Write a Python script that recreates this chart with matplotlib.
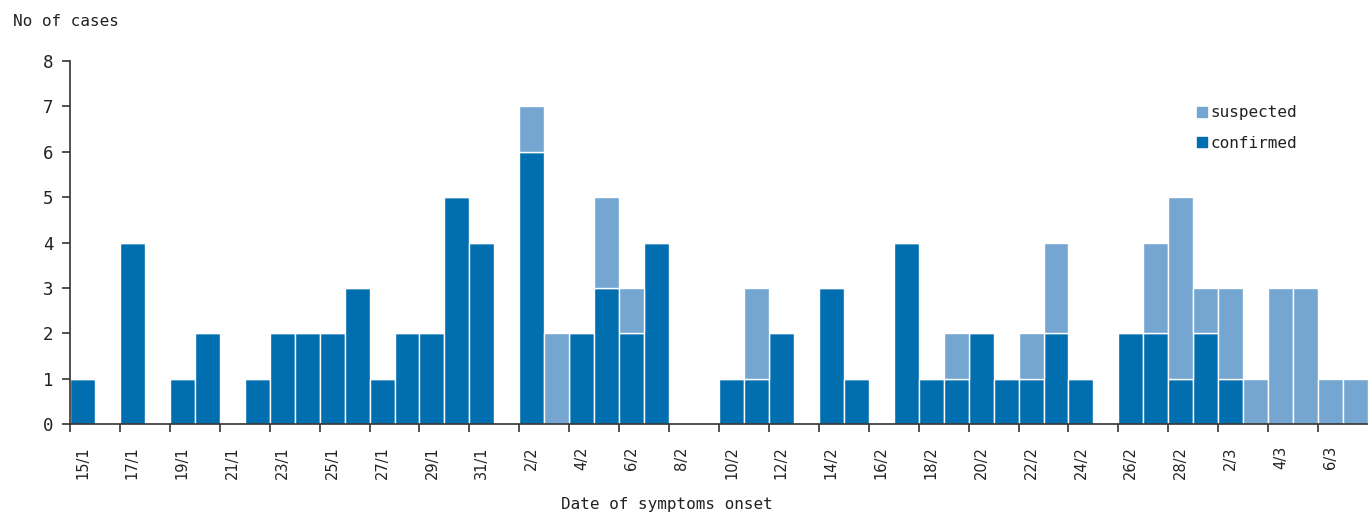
import matplotlib
matplotlib.use("Agg")
import matplotlib.pyplot as plt
from matplotlib.lines import Line2D
import numpy as np

dates = (["%d/1" % d for d in range(15, 32)] +
         ["%d/2" % d for d in range(1, 29)] +
         ["%d/3" % d for d in range(1, 8)])

confirmed = [1, 0, 4, 0, 1, 2, 0, 1, 2, 2, 2, 3, 1, 2, 2, 5, 4,
             0, 6, 0, 2, 3, 2, 4, 0, 0, 1, 1, 2, 0, 3, 1, 0, 4, 1, 1, 2, 1, 1, 2, 1, 0, 2, 2, 1,
             2, 1, 0, 0, 0, 0, 0]
suspected = [0, 0, 0, 0, 0, 0, 0, 0, 0, 0, 0, 0, 0, 0, 0, 0, 0,
             0, 1, 2, 0, 2, 1, 0, 0, 0, 0, 2, 0, 0, 0, 0, 0, 0, 0, 1, 0, 0, 1, 2, 0, 0, 0, 2, 4,
             1, 2, 1, 3, 3, 1, 1]

yticks = [0, 1, 2, 3, 4, 5, 6, 7, 8]

c_conf = "#006EAF"
c_susp = "#74A6D1"
font = "DejaVu Sans Mono"
txtc = "#222222"

fig = plt.figure(figsize=(13.68, 5.14), dpi=100)
ax = fig.add_axes([70 / 1368, 90 / 514, 1 - 70 / 1368, (424 - 61) / 514])

x = np.arange(len(dates))
ax.bar(x, confirmed, width=1.0, color=c_conf, edgecolor="white", linewidth=1.0)
ax.bar(x, suspected, width=1.0, bottom=confirmed, color=c_susp, edgecolor="white", linewidth=1.0)

ax.set_xlim(-0.5, len(dates) - 0.5)
ax.set_ylim(0, 8)

for s in ["top", "right"]:
    ax.spines[s].set_visible(False)
for s in ["left", "bottom"]:
    ax.spines[s].set_color("#333333")
    ax.spines[s].set_linewidth(1.2)

ax.set_yticks(yticks)
ax.set_yticklabels([str(v) for v in yticks], fontsize=12.5, color=txtc, family=font)
ax.tick_params(axis="y", length=6, width=1.2, color="#333333", pad=6)

ax.set_xticks(x[::2] - 0.5)
ax.set_xticklabels([])
ax.tick_params(axis="x", which="major", length=6, width=1.2, color="#333333")
ax.set_xticks(x[::2], minor=True)
ax.set_xticklabels(dates[::2], minor=True, rotation=90, fontsize=10.5,
                   color=txtc, family="DejaVu Sans", va="top", ha="center")
ax.tick_params(axis="x", which="minor", length=0, pad=16)

fig.text(13 / 1368, 1 - 22 / 514, "No of cases", fontsize=11.5, color=txtc,
         family=font, va="center", ha="left")
fig.text(667 / 1368, 1 - 505 / 514, "Date of symptoms onset", fontsize=11.5,
         color=txtc, family=font, va="center", ha="center")

handles = [Line2D([], [], marker="s", linestyle="none", color=c_susp, markersize=7),
           Line2D([], [], marker="s", linestyle="none", color=c_conf, markersize=7)]
leg = fig.legend(handles, ["suspected", "confirmed"], loc="upper left",
                 bbox_to_anchor=(1180 / 1368, 1 - 91 / 514), frameon=False,
                 prop={"family": font, "size": 11.5}, handletextpad=0.0,
                 labelspacing=0.95, handlelength=1.0)
for t in leg.get_texts():
    t.set_color(txtc)

fig.savefig("out.png", dpi=100)
